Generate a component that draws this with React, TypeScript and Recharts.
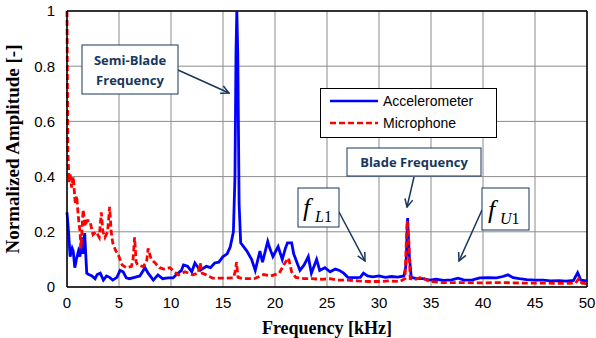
import React from "react";
import {
  LineChart,
  Line,
  XAxis,
  YAxis,
  CartesianGrid,
  ReferenceLine,
  Legend,
  Customized,
} from "recharts";

// accelerometer spectrum (kHz, normalized amplitude)
const accelFreq = [
  0, 0.15, 0.3, 0.5, 0.6, 0.75, 0.9, 1.1, 1.25, 1.4, 1.55, 1.7, 1.8, 1.9, 2.1, 2.4, 2.7, 2.9, 3.2, 3.5,
  3.8, 4.1, 4.4, 4.8, 5.1, 5.4, 5.7, 6.0, 6.5, 7.0, 7.5, 7.8, 8.3, 8.75, 9.2, 9.7, 10.2, 10.5, 11.0, 11.2,
  11.6, 12.0, 12.3, 12.8, 13.4, 13.8, 14.2, 14.6, 15.0, 15.4, 15.7, 16.0, 16.15, 16.25, 16.33, 16.42, 16.55, 16.7, 17.3, 17.75,
  18.1, 18.55, 18.8, 19.0, 19.3, 19.5, 19.8, 20.3, 20.7, 21.0, 21.2, 21.6, 21.8, 22.1, 22.4, 22.8, 23.2, 23.5, 24.0, 24.3,
  24.8, 25.3, 25.8, 26.2, 26.6, 27.0, 27.6, 28.2, 28.5, 28.9, 29.4, 30.0, 30.6, 31.2, 31.8, 32.4, 32.6, 32.75, 32.9, 33.1,
  33.6, 34.2, 34.9, 35.5, 36.2, 37.0, 37.6, 38.2, 39.0, 39.7, 40.5, 41.3, 41.9, 42.4, 42.9, 43.5, 44.2, 45.0, 45.8, 46.5,
  47.3, 48.0, 48.7, 49.1, 49.4, 50,
];
const accelAmp = [
  0.27, 0.2, 0.11, 0.14, 0.13, 0.07, 0.1, 0.13, 0.11, 0.18, 0.12, 0.195, 0.12, 0.05, 0.045, 0.04, 0.03, 0.045, 0.05, 0.025,
  0.04, 0.035, 0.025, 0.035, 0.06, 0.055, 0.033, 0.03, 0.035, 0.04, 0.07, 0.05, 0.025, 0.044, 0.03, 0.033, 0.033, 0.044, 0.06, 0.08,
  0.075, 0.055, 0.087, 0.06, 0.075, 0.07, 0.087, 0.09, 0.11, 0.12, 0.146, 0.2, 0.4, 0.85, 1.0, 0.85, 0.3, 0.16, 0.13, 0.1,
  0.06, 0.13, 0.09, 0.12, 0.165, 0.14, 0.11, 0.146, 0.1, 0.14, 0.16, 0.16, 0.12, 0.09, 0.06, 0.08, 0.11, 0.05, 0.1, 0.06,
  0.07, 0.055, 0.065, 0.06, 0.05, 0.035, 0.034, 0.035, 0.05, 0.04, 0.037, 0.04, 0.035, 0.038, 0.036, 0.04, 0.08, 0.25, 0.12, 0.035,
  0.03, 0.03, 0.025, 0.028, 0.024, 0.026, 0.032, 0.025, 0.026, 0.033, 0.034, 0.033, 0.038, 0.044, 0.034, 0.03, 0.027, 0.025, 0.025, 0.022,
  0.023, 0.021, 0.024, 0.052, 0.025, 0.022,
];

// microphone spectrum
const micFreq = [
  0, 0.08, 0.2, 0.3, 0.45, 0.6, 0.8, 0.93, 1.1, 1.25, 1.35, 1.55, 1.75, 1.9, 2.2, 2.5, 2.8, 3.1, 3.3, 3.45,
  3.65, 3.9, 4.1, 4.25, 4.4, 4.7, 4.9, 5.3, 5.7, 6.2, 6.35, 6.5, 6.65, 6.8, 7.3, 7.65, 7.8, 8.1, 8.4, 8.9,
  9.3, 9.9, 10.3, 10.7, 11.35, 12.1, 12.6, 12.8, 13.0, 13.4, 14.0, 15.0, 16.0, 16.2, 16.3, 16.45, 17.0, 18.0, 18.9, 19.6,
  20.4, 21.0, 21.3, 21.6, 22.0, 22.8, 23.5, 24.5, 25.3, 26.0, 27.0, 28.0, 29.0, 30.0, 31.0, 32.0, 32.5, 32.7, 32.85, 33.0,
  33.5, 34.1, 34.6, 35.0, 36.0, 38.0, 40.0, 42.0, 44.0, 46.0, 48.0, 48.9, 49.2, 49.5, 50,
];
const micAmp = [
  1.0, 0.5, 0.38, 0.41, 0.36, 0.4, 0.3, 0.33, 0.25, 0.2, 0.14, 0.28, 0.22, 0.24, 0.24, 0.19, 0.2, 0.18, 0.27, 0.2,
  0.18, 0.2, 0.29, 0.2, 0.16, 0.13, 0.12, 0.08, 0.07, 0.075, 0.1, 0.18, 0.09, 0.08, 0.074, 0.09, 0.14, 0.1, 0.09, 0.07,
  0.065, 0.07, 0.055, 0.044, 0.055, 0.044, 0.05, 0.087, 0.05, 0.044, 0.032, 0.032, 0.033, 0.06, 0.09, 0.035, 0.03, 0.03, 0.045, 0.04,
  0.05, 0.09, 0.105, 0.055, 0.035, 0.03, 0.03, 0.028, 0.03, 0.025, 0.025, 0.022, 0.02, 0.02, 0.022, 0.02, 0.03, 0.24, 0.18, 0.03,
  0.028, 0.036, 0.025, 0.02, 0.016, 0.016, 0.015, 0.016, 0.014, 0.014, 0.013, 0.014, 0.03, 0.014, 0.012,
];

const xTicks = [0, 5, 10, 15, 20, 25, 30, 35, 40, 45, 50];
const yTicks = [0, 0.2, 0.4, 0.6, 0.8, 1];

const accelData = accelFreq.map((f, i) => ({ f, amp: accelAmp[i] }));
const micData = micFreq.map((f, i) => ({ f, amp: micAmp[i] }));

const NAVY = "#17375E";
const tickStyle = { fontFamily: "Liberation Sans, Arial, sans-serif", fontSize: 15, fill: "#000" };

function LegendBox() {
  return (
    <div
      style={{
        width: 177,
        height: 50,
        background: "#fff",
        border: "1px solid #000",
        boxSizing: "border-box",
        fontFamily: "Liberation Sans, Arial, sans-serif",
        fontSize: 14,
        color: "#000",
      }}
    >
      <svg width={175} height={48}>
        <line x1={9} x2={57} y1={12} y2={12} stroke="#0000ff" strokeWidth={2.5} />
        <text x={62} y={17}>Accelerometer</text>
        <line x1={9} x2={57} y1={34} y2={34} stroke="#ff0000" strokeWidth={2.5} strokeDasharray="6 3" />
        <text x={62} y={39}>Microphone</text>
      </svg>
    </div>
  );
}

function Annotations() {
  const boxText = { fontFamily: "Open Sans, Lato, sans-serif", fontWeight: 700, fontSize: 13, fill: NAVY };
  const fText = { fontFamily: "Liberation Serif, Times New Roman, serif", fontStyle: "italic", fill: "#000" };
  return (
    <g>
      <defs>
        <marker id="arr" markerWidth="10" markerHeight="10" refX="9" refY="5" orient="auto" markerUnits="userSpaceOnUse">
          <path d="M1,1 L9,5 L1,9" fill="none" stroke={NAVY} strokeWidth={1.5} />
        </marker>
      </defs>
      {/* semi-blade */}
      <line x1={178} y1={70} x2={229} y2={93} stroke={NAVY} strokeWidth={1.5} markerEnd="url(#arr)" />
      <rect x={82} y={45} width={96} height={49} fill="#fff" stroke={NAVY} strokeWidth={1} />
      <text x={130} y={65} textAnchor="middle" style={boxText}>Semi-Blade</text>
      <text x={130} y={85} textAnchor="middle" style={boxText}>Frequency</text>
      {/* blade */}
      <line x1={414} y1={177} x2={407} y2={207} stroke={NAVY} strokeWidth={1.5} markerEnd="url(#arr)" />
      <rect x={347} y={148} width={134} height={28} fill="#fff" stroke={NAVY} strokeWidth={1} />
      <text x={414} y={167} textAnchor="middle" style={boxText}>Blade Frequency</text>
      {/* f_L1 */}
      <line x1={339} y1={212} x2={365} y2={261} stroke={NAVY} strokeWidth={1.5} markerEnd="url(#arr)" />
      <rect x={298} y={188} width={41} height={39} fill="#fff" stroke={NAVY} strokeWidth={1} />
      <text x={303} y={216} style={{ ...fText, fontSize: 26 }}>f</text>
      <text x={315} y={222} style={{ ...fText, fontSize: 16 }}>L<tspan fontStyle="normal">1</tspan></text>
      {/* f_U1 */}
      <line x1={482} y1={210} x2={459} y2={261} stroke={NAVY} strokeWidth={1.5} markerEnd="url(#arr)" />
      <rect x={482} y={188} width={47} height={42} fill="#fff" stroke={NAVY} strokeWidth={1} />
      <text x={488} y={218} style={{ ...fText, fontSize: 26 }}>f</text>
      <text x={500} y={224} style={{ ...fText, fontSize: 16 }}>U<tspan fontStyle="normal">1</tspan></text>
    </g>
  );
}

export default function App() {
  return (
    <div style={{ position: "absolute", left: 0, top: 0, background: "#fff" }}>
      <LineChart width={596} height={338} margin={{ top: 11, right: 9, left: 0, bottom: 0 }}>
        <CartesianGrid stroke="#8c8c8c" strokeWidth={1} />
        <XAxis
          dataKey="f"
          type="number"
          domain={[0, 50]}
          ticks={xTicks}
          allowDuplicatedCategory={false}
          height={51}
          tickLine={false}
          axisLine={{ stroke: "#000", strokeWidth: 1.5 }}
          tick={tickStyle}
          tickMargin={4}
          label={{
            value: "Frequency [kHz]",
            position: "insideBottom",
            offset: 4,
            style: { fontFamily: "Liberation Serif, Times New Roman, serif", fontWeight: 700, fontSize: 18, fill: "#000" },
          }}
        />
        <YAxis
          type="number"
          domain={[0, 1]}
          ticks={yTicks}
          width={67}
          tickLine={false}
          axisLine={{ stroke: "#000", strokeWidth: 1.5 }}
          tick={tickStyle}
          tickMargin={6}
          label={{
            value: "Normalized Amplitude [-]",
            angle: -90,
            position: "insideLeft",
            offset: 12,
            style: { textAnchor: "middle", fontFamily: "Liberation Serif, Times New Roman, serif", fontWeight: 700, fontSize: 19, fill: "#000" },
          }}
        />
        <ReferenceLine y={1} stroke="#000" strokeWidth={1.5} />
        <ReferenceLine x={50} stroke="#000" strokeWidth={1.5} />
        <Line
          data={accelData}
          dataKey="amp"
          name="Accelerometer"
          type="linear"
          stroke="#0000ff"
          strokeWidth={2.8}
          dot={false}
          isAnimationActive={false}
        />
        <Line
          data={micData}
          dataKey="amp"
          name="Microphone"
          type="linear"
          stroke="#ff0000"
          strokeWidth={2.8}
          strokeDasharray="6 3"
          dot={false}
          isAnimationActive={false}
        />
        <Legend
          layout="vertical"
          align="center"
          verticalAlign="middle"
          content={() => <LegendBox />}
          wrapperStyle={{ position: "absolute", left: 320, top: 88, width: 177, height: 50 }}
        />
        <Customized component={Annotations} />
      </LineChart>
    </div>
  );
}
